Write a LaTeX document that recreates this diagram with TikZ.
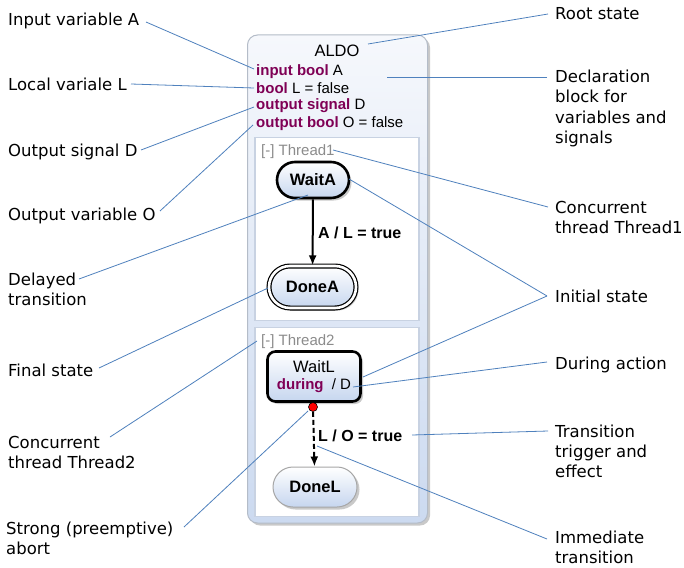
\documentclass[tikz,border=0pt]{standalone}
\usepackage{fontspec}
\setmainfont{Liberation Sans}
\newfontfamily\labfont{DejaVu Sans}
\usetikzlibrary{shapes.misc,shadows,arrows.meta}
\definecolor{callout}{HTML}{4F81BD}
\definecolor{kw}{HTML}{7F0055}
\definecolor{rootborder}{HTML}{B4BCC8}
\definecolor{regborder}{HTML}{C8D2E2}
\definecolor{stfill}{HTML}{C6D6EF}
\definecolor{rootbot}{HTML}{CCDAF0}
\definecolor{roottop}{HTML}{F6F8FC}
\definecolor{threadgray}{HTML}{8C8C8C}
\begin{document}
\begin{tikzpicture}[x=1pt,y=-1pt,
  lab/.style={font=\labfont\fontsize{16.5}{20}\selectfont, inner sep=0, anchor=base west},
  callline/.style={draw=callout, line width=0.8pt},
  shad/.style={drop shadow={shadow xshift=2.5pt, shadow yshift=-2.5pt, opacity=0.35, fill=black!60}},
  rootst/.style={draw=rootborder, line width=1pt, rounded corners=10pt, top color=roottop, bottom color=rootbot, shad, inner sep=0},
  region/.style={draw=regborder, line width=1.6pt, fill=white, inner sep=0},
  stbase/.style={top color=white, bottom color=stfill, font=\fontsize{16.5}{18}\selectfont\bfseries, shad, inner sep=0},
  dtxt/.style={font=\fontsize{15}{17}\selectfont, inner sep=0, anchor=base west},
  ttxt/.style={font=\fontsize{15}{17}\selectfont, text=threadgray, inner sep=0, anchor=base west},
  trtxt/.style={font=\fontsize{16}{17}\selectfont\bfseries, inner sep=0, anchor=base west}
]
\fill[white] (0,0) rectangle (684,567);
\useasboundingbox (0,0) rectangle (684,567);

% root state
\node[rootst, minimum width=180, minimum height=488] (root) at (337.5,279) {};
\node[font=\fontsize{16.5}{18}\selectfont, inner sep=0, anchor=base] (aldo) at (337,57) {ALDO};
\node[dtxt] (d1) at (256,76) {\textcolor{kw}{\bfseries input bool} A};
\node[dtxt] (d2) at (256,93) {\textcolor{kw}{\bfseries bool} L = false};
\node[dtxt] (d3) at (256,110) {\textcolor{kw}{\bfseries output signal} D};
\node[dtxt] (d4) at (256,127) {\textcolor{kw}{\bfseries output bool} O = false};

% regions
\node[region, minimum width=164, minimum height=183] (th1) at (337,229) {};
\node[region, minimum width=164, minimum height=189] (th2) at (337,422) {};
\node[ttxt] (th1l) at (261,155) {[-] Thread1};
\node[ttxt] (th2l) at (261,345) {[-] Thread2};

% states
\node[stbase, rounded rectangle, draw=black, line width=2.6pt, minimum width=72, minimum height=36] (waitA) at (313,180) {WaitA};
\node[stbase, rounded rectangle, draw=black, line width=1.2pt, double=white, double distance=2.6pt, minimum width=87, minimum height=42] (doneA) at (312.5,287) {DoneA};
\node[stbase, rectangle, rounded corners=8pt, draw=black, line width=2.6pt, minimum width=93, minimum height=50, align=center, font=\fontsize{15}{18}\selectfont] (waitL) at (314,376.5) {{\fontsize{16.5}{18}\selectfont WaitL}\\[-1pt]{\color{kw}\bfseries during}~~/ D};
\node[stbase, rounded rectangle, draw=black!35, line width=1pt, minimum width=84, minimum height=40] (doneL) at (315,487) {DoneL};
\node[circle, fill=red, draw=black, line width=0.6pt, minimum size=9, inner sep=0] (abort) at (313,407) {};

% transitions
\draw[line width=2pt, -{Latex[length=10pt,width=8pt]}] (waitA) -- (doneA);
\draw[line width=2pt, dash pattern=on 5pt off 3pt, -{Latex[length=10pt,width=8pt]}] (abort) -- (doneL);
\node[trtxt] (t1) at (318,238) {A / L = true};
\node[trtxt] (t2) at (318,441) {L / O = true};

% left labels
\node[lab] (lA) at (8,26) {Input variable A};
\node[lab] (lL) at (8,91) {Local variale L};
\node[lab] (lD) at (8,156) {Output signal D};
\node[lab] (lO) at (8,220) {Output variable O};
\node[lab] (lDel) at (8,285) {\begin{tabular}[t]{@{}l@{}}Delayed\\transition\end{tabular}};
\node[lab] (lFin) at (8,376) {Final state};
\node[lab] (lT2) at (8,448) {\begin{tabular}[t]{@{}l@{}}Concurrent\\thread Thread2\end{tabular}};
\node[lab] (lAb) at (6,534) {\begin{tabular}[t]{@{}l@{}}Strong (preemptive)\\abort\end{tabular}};

% right labels
\node[lab] (rRoot) at (555,20) {Root state};
\node[lab] (rDecl) at (555,83) {\begin{tabular}[t]{@{}l@{}}Declaration\\block for\\variables and\\signals\end{tabular}};
\node[lab] (rT1) at (555,213) {\begin{tabular}[t]{@{}l@{}}Concurrent\\thread Thread1\end{tabular}};
\node[lab] (rInit) at (555,302) {Initial state};
\node[lab] (rDur) at (555,369) {During action};
\node[lab] (rTr) at (555,437) {\begin{tabular}[t]{@{}l@{}}Transition\\trigger and\\effect\end{tabular}};
\node[lab] (rImm) at (555,543) {\begin{tabular}[t]{@{}l@{}}Immediate\\transition\end{tabular}};

% callout end points
\coordinate (cA) at (146,22);   \coordinate (eA) at (254,69);
\coordinate (cL) at (131,84);   \coordinate (eL) at (254,88);
\coordinate (cD) at (141,150);  \coordinate (eD) at (254,107);
\coordinate (cO) at (160,211);  \coordinate (eO) at (253,125);
\coordinate (cDel) at (79,279); \coordinate (eDel) at (308,195);
\coordinate (cFin) at (99,368); \coordinate (eFin) at (268,288);
\coordinate (cT2) at (110,437); \coordinate (eT2) at (257,341);
\coordinate (cAb) at (184,527); \coordinate (eAb) at (308,411);
\coordinate (cRoot) at (548,14); \coordinate (eRoot) at (368,44);
\coordinate (cDecl) at (547,77); \coordinate (eDecl) at (387,77);
\coordinate (cT1) at (548,207); \coordinate (eT1) at (333,150);
\coordinate (cInit) at (547,296); \coordinate (eInit1) at (349,179); \coordinate (eInit2) at (363,377);
\coordinate (cDur) at (547,362); \coordinate (eDur) at (353,387);
\coordinate (cTr) at (548,431); \coordinate (eTr) at (412,435);
\coordinate (cImm) at (547,539); \coordinate (eImm) at (317,446);

\foreach \a/\b in {cA/eA,cL/eL,cD/eD,cO/eO,cDel/eDel,cFin/eFin,cT2/eT2,cAb/eAb,cRoot/eRoot,cDecl/eDecl,cT1/eT1,cInit/eInit1,cInit/eInit2,cDur/eDur,cTr/eTr,cImm/eImm}
  \draw[callline] (\a) -- (\b);
\end{tikzpicture}
\end{document}
